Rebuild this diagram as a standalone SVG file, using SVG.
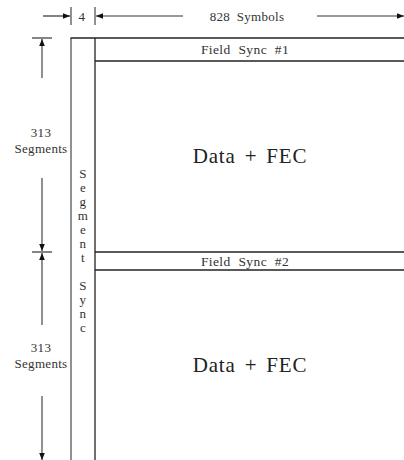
<svg xmlns="http://www.w3.org/2000/svg" width="404" height="460" viewBox="0 0 404 460">
<defs>
<marker id="ah" viewBox="0 0 10 10" refX="10" refY="5" markerWidth="7" markerHeight="7" markerUnits="userSpaceOnUse" orient="auto"><path d="M0,1 L10,5 L0,9 Z" fill="#111"/></marker>
<style>
.ln{stroke:#222;stroke-width:1.3;fill:none}
.gl{stroke:#555;stroke-width:1.3;fill:none}
.dim{stroke:#333;stroke-width:1.2;fill:none}
.t{font-family:"Liberation Serif","DejaVu Serif",serif;fill:#333;text-anchor:middle}
.s{font-size:13px;letter-spacing:0.3px}
.m{font-size:13.5px;letter-spacing:0.4px;word-spacing:4px}
.b{font-size:21px;fill:#222;letter-spacing:0.8px;word-spacing:3px}
</style>
</defs>
<rect width="404" height="460" fill="#fff"/>
<g id="connectors">
<line class="dim" x1="43" y1="16" x2="70" y2="16" marker-end="url(#ah)"/>
<line class="gl" x1="71" y1="7" x2="71" y2="25"/>
<line class="gl" x1="95" y1="7" x2="95" y2="25"/>
<line class="dim" x1="183" y1="16" x2="96" y2="16" marker-end="url(#ah)"/>
<line class="dim" x1="317" y1="16" x2="404" y2="16" marker-end="url(#ah)"/>
<line class="dim" x1="32" y1="38" x2="52" y2="38"/>
<line class="dim" x1="32" y1="252" x2="52" y2="252"/>
<line class="gl" x1="42" y1="78" x2="42" y2="39" marker-end="url(#ah)"/>
<line class="gl" x1="42" y1="178" x2="42" y2="251" marker-end="url(#ah)"/>
<line class="gl" x1="42" y1="325" x2="42" y2="253" marker-end="url(#ah)"/>
<line class="gl" x1="42" y1="396" x2="42" y2="460" marker-end="url(#ah)"/>
</g>
<g id="dim-labels">
<text class="t s" x="82" y="21">4</text>
<text class="t s" x="247" y="21" style="word-spacing:3px">828 Symbols</text>
<text class="t s" x="41" y="137">313</text>
<text class="t s" x="41" y="153">Segments</text>
<text class="t s" x="41" y="352">313</text>
<text class="t s" x="41" y="368">Segments</text>
</g>
<g id="segment-sync">
<line class="gl" x1="71" y1="38" x2="71" y2="460"/>
<line class="ln" x1="95" y1="38" x2="95" y2="460"/>
<line class="ln" x1="70.5" y1="38" x2="404" y2="38"/>
<text class="t s" x="83">
<tspan x="83" y="178">S</tspan><tspan x="83" y="192">e</tspan><tspan x="83" y="206">g</tspan><tspan x="83" y="220">m</tspan><tspan x="83" y="234">e</tspan><tspan x="83" y="248">n</tspan><tspan x="83" y="262">t</tspan><tspan x="83" y="290">S</tspan><tspan x="83" y="304">y</tspan><tspan x="83" y="318">n</tspan><tspan x="83" y="332">c</tspan>
</text>
</g>
<g id="field-sync-1">
<line class="ln" x1="95" y1="61" x2="404" y2="61"/>
<text class="t m" x="245" y="54">Field Sync #1</text>
</g>
<g id="data-fec-1">
<text class="t b" x="250" y="163">Data + FEC</text>
</g>
<g id="field-sync-2">
<line class="ln" x1="95" y1="252" x2="404" y2="252"/>
<line class="ln" x1="95" y1="270" x2="404" y2="270"/>
<text class="t m" x="245" y="266">Field Sync #2</text>
</g>
<g id="data-fec-2">
<text class="t b" x="250" y="372">Data + FEC</text>
</g>
</svg>
